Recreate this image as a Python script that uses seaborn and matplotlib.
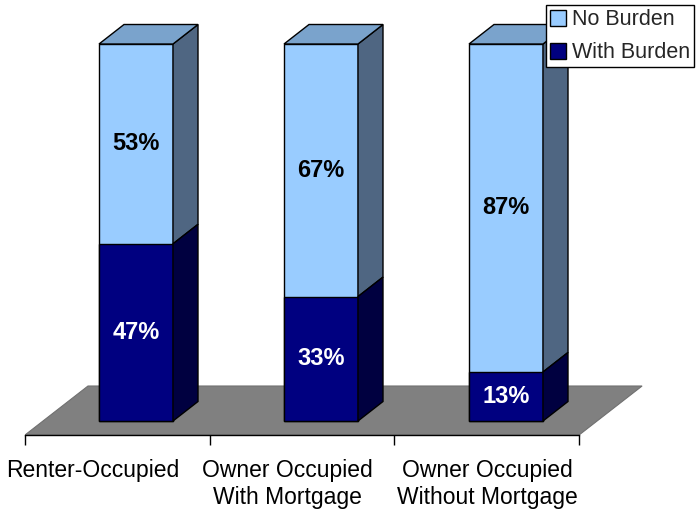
import matplotlib
matplotlib.use("Agg")
import matplotlib.pyplot as plt
from matplotlib.patches import Polygon, Patch
import seaborn as sns
import pandas as pd

# ---- data ----
categories = ["Renter-Occupied", "Owner Occupied\nWith Mortgage", "Owner Occupied\nWithout Mortgage"]
with_burden = [47, 33, 13]
no_burden = [53, 67, 87]
series_names = ["No Burden", "With Burden"]

# ---- style ----
sns.set_style("white")
plt.rcParams["font.family"] = ["Liberation Sans", "DejaVu Sans"]

light_front, light_top, light_side = "#99CCFF", "#7AA3CC", "#4F6682"
dark_front, dark_top, dark_side = "#000080", "#000066", "#000040"
floor_col = "#808080"

fig = plt.figure(figsize=(6.97, 5.16), dpi=100)
W, H = 697, 516
# pixel mapping: x_px = 136 + 185*cat ; y_px = 421 - 3.77*val
x0, x1 = -0.6, 2.8
y0, y1 = -4.0, 106.0
px_l = 136 + 185 * x0
px_r = 136 + 185 * x1
py_b = 421 - 3.77 * y0
py_t = 421 - 3.77 * y1
ax = fig.add_axes([px_l / W, (H - py_b) / H, (px_r - px_l) / W, (py_b - py_t) / H])

df = pd.DataFrame({"cat": categories,
                   "total": [a + b for a, b in zip(with_burden, no_burden)],
                   "burden": with_burden})

sns.barplot(data=df, x="cat", y="total", color=light_front, saturation=1,
            width=0.4, edgecolor="black", linewidth=1, ax=ax, zorder=3)
sns.barplot(data=df, x="cat", y="burden", color=dark_front, saturation=1,
            width=0.4, edgecolor="black", linewidth=1, ax=ax, zorder=4)

ax.set_xlim(x0, x1)
ax.set_ylim(y0, y1)

# depth offsets (data units)
dx, dy = 25 / 185, 19.5 / 3.77
floor_front = -(435 - 421) / 3.77
floor_back = (421 - 386) / 3.77
fl_dx = 63 / 185

# floor
floor = Polygon([(-0.6, floor_front), (2.395, floor_front),
                 (2.395 + fl_dx, floor_back), (-0.6 + fl_dx, floor_back)],
                closed=True, facecolor=floor_col, edgecolor="#707070", lw=0.8, zorder=1)
ax.add_patch(floor)

patches = list(ax.patches)
n = len(categories)
tot_patches = [p for p in patches if p.get_facecolor()[:3] == matplotlib.colors.to_rgb(light_front)]
bur_patches = [p for p in patches if p.get_facecolor()[:3] == matplotlib.colors.to_rgb(dark_front)]
tot_patches.sort(key=lambda p: p.get_x())
bur_patches.sort(key=lambda p: p.get_x())

for i in range(n):
    tp, bp = tot_patches[i], bur_patches[i]
    x = tp.get_x(); w = tp.get_width()
    top = tp.get_height(); split = bp.get_height()
    for p in (tp, bp):
        p.set_clip_on(False)
    # side faces
    ax.add_patch(Polygon([(x + w, split), (x + w + dx, split + dy), (x + w + dx, top + dy), (x + w, top)],
                         closed=True, facecolor=light_side, edgecolor="black", lw=1, zorder=3, clip_on=False))
    ax.add_patch(Polygon([(x + w, 0), (x + w + dx, dy), (x + w + dx, split + dy), (x + w, split)],
                         closed=True, facecolor=dark_side, edgecolor="black", lw=1, zorder=4, clip_on=False))
    # top face
    ax.add_patch(Polygon([(x, top), (x + dx, top + dy), (x + w + dx, top + dy), (x + w, top)],
                         closed=True, facecolor=light_top, edgecolor="black", lw=1, zorder=3, clip_on=False))
    cx = x + w / 2
    ax.text(cx, split + (top - split) / 2, f"{no_burden[i]}%", ha="center", va="center",
            fontsize=17, fontweight="bold", color="black", zorder=6)
    ax.text(cx, split / 2, f"{with_burden[i]}%", ha="center", va="center",
            fontsize=17, fontweight="bold", color="white", zorder=6)

# axis line and ticks
for s in ["top", "right", "left"]:
    ax.spines[s].set_visible(False)
ax.spines["bottom"].set_position(("data", floor_front))
ax.spines["bottom"].set_bounds(-0.6, 2.395)
ax.spines["bottom"].set_color("black")
ax.spines["bottom"].set_linewidth(1)
ax.set_xticks([-0.6, 0.4, 1.395, 2.395], labels=[""] * 4)
ax.tick_params(axis="x", length=7, direction="out", color="black", width=1, bottom=True)
ax.set_yticks([])
ax.set_xlabel("")
ax.set_ylabel("")

# category labels
label_x = [-0.232, 0.816, 1.897]
for i, lab in enumerate(categories):
    ax.text(label_x[i], -(459 - 421) / 3.77, lab, ha="center", va="top",
            fontsize=16.5, linespacing=1.22, color="black")

# legend
handles = [Patch(facecolor=light_front, edgecolor="black", lw=1),
           Patch(facecolor=dark_front, edgecolor="black", lw=1)]
leg = fig.legend(handles, series_names, loc="upper right",
                 bbox_to_anchor=(694 / W, 1 - 5 / H), bbox_transform=fig.transFigure,
                 frameon=True, fancybox=False, edgecolor="black", framealpha=1,
                 borderpad=0.2, handlelength=0.75, handleheight=0.75, handletextpad=0.25,
                 labelspacing=0.55, borderaxespad=0, fontsize=15.5)
leg.get_frame().set_linewidth(1)

fig.savefig("out.png", dpi=100)
